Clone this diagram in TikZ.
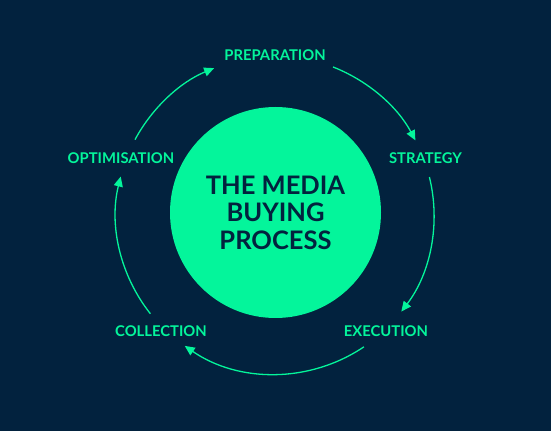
\documentclass[tikz,border=0pt]{standalone}
\usepackage{fontspec}
\setmainfont{Lato}
\usetikzlibrary{arrows.meta}
\definecolor{navy}{RGB}{2,34,62}
\definecolor{mint}{RGB}{4,245,155}
\tikzset{
  lbl/.style={text=mint, font=\fontsize{14.8}{18}\selectfont\bfseries, inner sep=0pt},
  cyc/.style={draw=mint, line width=1.3pt, -{Triangle[length=10pt,width=9pt]}},
  hub/.style={circle, fill=mint, minimum size=211pt, inner sep=0pt, text=navy,
    align=center, font=\fontsize{25.5}{27.5}\selectfont\bfseries}
}
\begin{document}
\begin{tikzpicture}[x=1pt,y=1pt]
\fill[navy] (0,0) rectangle (551,431);
\useasboundingbox (0,0) rectangle (551,431);
\coordinate (c) at (275,216);
\node[hub] (hub) at (275.5,218.5) {THE MEDIA\\BUYING\\PROCESS};
\node[lbl] (prep) at (275,376) {PREPARATION};
\node[lbl] (strat) at (425.5,272.5) {STRATEGY};
\node[lbl] (exec) at (386,99.5) {EXECUTION};
\node[lbl] (coll) at (161,99.5) {COLLECTION};
\node[lbl] (opt) at (121,272.5) {OPTIMISATION};
\draw[cyc] ([shift={(68.6:159)}]c) arc[start angle=68.6, end angle=28, radius=159];
\draw[cyc] ([shift={(13.8:159)}]c) arc[start angle=13.8, end angle=-37.4, radius=159];
\draw[cyc] ([shift={(-56:159)}]c) arc[start angle=-56, end angle=-124.6, radius=159];
\draw[cyc] ([shift={(-141.6:159)}]c) arc[start angle=-141.6, end angle=-194, radius=159];
\draw[cyc] ([shift={(151.7:159)}]c) arc[start angle=151.7, end angle=112.5, radius=159];
\end{tikzpicture}
\end{document}
